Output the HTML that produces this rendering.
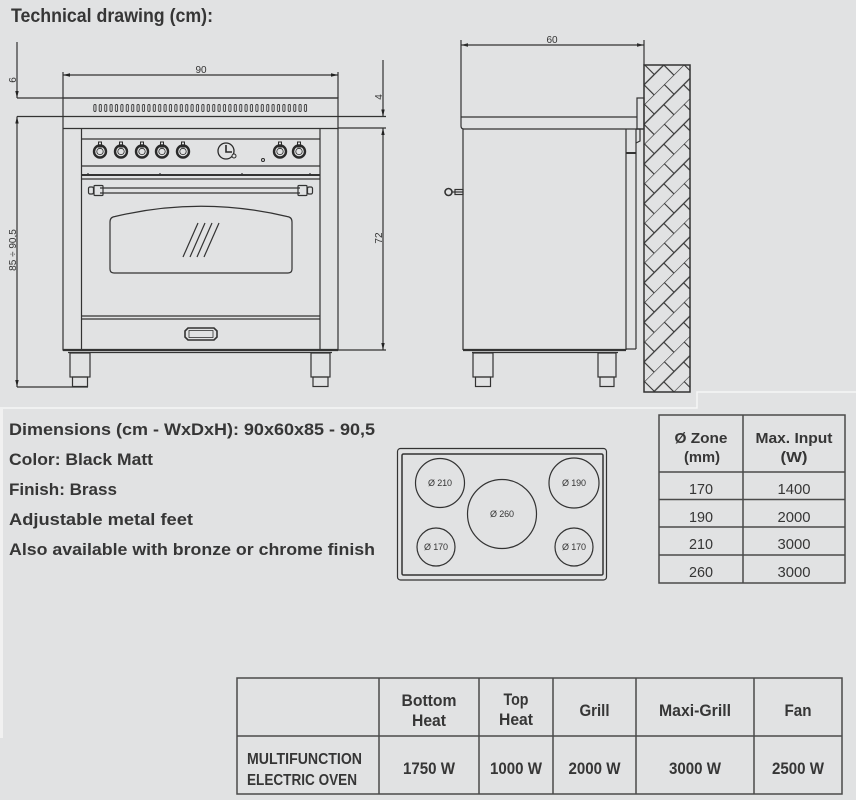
<!DOCTYPE html>
<html><head><meta charset="utf-8"><style>
html,body{margin:0;padding:0;background:#e1e2e3;}
svg{display:block}
text{font-family:"Liberation Sans","DejaVu Sans",sans-serif;fill:#363636}
.b{font-weight:bold}
.d{font-size:10px;fill:#333}
</style></head><body>
<svg width="856" height="800" viewBox="0 0 856 800" xmlns="http://www.w3.org/2000/svg">
<defs>
<pattern id="vent" x="93" y="104" width="5.4" height="9" patternUnits="userSpaceOnUse">
<rect x="0.8" y="0.5" width="2.2" height="7" rx="1.1" fill="none" stroke="#333" stroke-width="0.9"/>
</pattern>
<pattern id="hatch" x="644" y="65" width="28" height="28" patternUnits="userSpaceOnUse" patternTransform="rotate(-45 644 65)">
<path d="M0,0 H28 M0,14 H28 M0.5,0 V14 M14,14 V28" stroke="#333" stroke-width="1.15" fill="none"/>
</pattern>
</defs>
<rect width="856" height="800" fill="#e1e2e3"/>

<!-- Title -->
<text x="11" y="22" class="b" font-size="19" textLength="202" lengthAdjust="spacingAndGlyphs">Technical drawing (cm):</text>

<!-- FRONT VIEW -->
<g stroke="#333" stroke-width="1.2" fill="none">
<line x1="17" y1="42" x2="17" y2="98"/>
<line x1="17" y1="98" x2="338" y2="98"/>
<line x1="17" y1="116.5" x2="386" y2="116.5"/>
<line x1="17" y1="116.5" x2="17" y2="387"/>
<line x1="17" y1="387" x2="88" y2="387"/>
<line x1="63" y1="72" x2="63" y2="98"/>
<line x1="338" y1="72" x2="338" y2="98"/>
<line x1="63" y1="75" x2="338" y2="75"/>
<line x1="383" y1="60" x2="383" y2="116.5"/>
<line x1="338" y1="128" x2="386" y2="128"/>
<line x1="383" y1="128" x2="383" y2="350"/>
<line x1="338" y1="350" x2="386" y2="350"/>
<rect x="63" y="98" width="275" height="252"/>
<line x1="63" y1="128.5" x2="338" y2="128.5"/>
<line x1="81.5" y1="128.5" x2="81.5" y2="350"/>
<line x1="320" y1="128.5" x2="320" y2="350"/>
<line x1="81.5" y1="139" x2="320" y2="139"/>
<line x1="81.5" y1="166" x2="320" y2="166"/>
<line x1="81.5" y1="175" x2="320" y2="175" stroke-width="2"/>
<line x1="81.5" y1="179" x2="320" y2="179"/>
<line x1="81.5" y1="316" x2="320" y2="316"/>
<line x1="81.5" y1="319" x2="320" y2="319"/>
<line x1="63" y1="350" x2="338" y2="350" stroke-width="2.2"/>
<line x1="68" y1="352.5" x2="332" y2="352.5"/>
<!-- feet -->
<rect x="70" y="353" width="20" height="24"/>
<rect x="72.5" y="377" width="15" height="9.5"/>
<rect x="311" y="353" width="19" height="24"/>
<rect x="313" y="377" width="15" height="9.5"/>
<!-- window -->
<path d="M110,222 Q110,217 115,216.5 Q201,196 287,216.5 Q292,217 292,222 L292,269 Q292,273 288,273 L114,273 Q110,273 110,269 Z"/>
<line x1="183" y1="257" x2="198" y2="223"/>
<line x1="190" y1="257" x2="205" y2="223"/>
<line x1="197" y1="257" x2="212" y2="223"/>
<line x1="204" y1="257" x2="219" y2="223"/>
<!-- handle -->
<line x1="100" y1="188" x2="300" y2="188"/>
<line x1="100" y1="193" x2="300" y2="193"/>
<rect x="88.5" y="187" width="5" height="7" rx="1.5"/>
<rect x="94" y="185.5" width="9" height="10" rx="1"/>
<rect x="298" y="185.5" width="9" height="10" rx="1"/>
<rect x="307.5" y="187" width="5" height="7" rx="1.5"/>
<!-- badge -->
<path d="M188,328 L214,328 L217,331 L217,337 L214,340 L188,340 L185,337 L185,331 Z" stroke-width="1.6"/>
<rect x="189" y="330.5" width="24" height="7" stroke-width="0.8"/>
<!-- ticks -->
<line x1="88" y1="173" x2="88" y2="175"/><line x1="160" y1="173" x2="160" y2="175"/><line x1="242" y1="173" x2="242" y2="175"/><line x1="310" y1="173" x2="310" y2="175"/>
</g>
<rect x="93" y="104" width="216" height="8" fill="url(#vent)"/>
<!-- knobs -->
<g stroke="#2a2a2a" fill="none">
<g id="k"><rect x="98.5" y="142" width="3" height="5" stroke-width="1"/><circle cx="100" cy="151.5" r="6" stroke-width="2.4"/><circle cx="100" cy="151.5" r="3.2" stroke-width="0.8"/></g>
<use href="#k" x="21"/><use href="#k" x="42"/><use href="#k" x="62"/><use href="#k" x="83"/><use href="#k" x="180"/><use href="#k" x="199"/>
<circle cx="226" cy="151" r="8" stroke-width="1.3"/>
<path d="M226,145 L226,152 L232,152" stroke-width="1.6"/>
<circle cx="234" cy="156" r="2" fill="#e1e2e3" stroke-width="1"/>
<circle cx="263" cy="160" r="1.5" stroke-width="1"/>
</g>
<!-- arrows -->
<g fill="#222">
<polygon points="17,98 15.3,91 18.7,91"/>
<polygon points="17,116.5 15.3,123.5 18.7,123.5"/>
<polygon points="17,387 15.3,380 18.7,380"/>
<polygon points="63,75 70,73.3 70,76.7"/>
<polygon points="338,75 331,73.3 331,76.7"/>
<polygon points="383,116.5 381.3,109.5 384.7,109.5"/>
<polygon points="383,128 381.3,135 384.7,135"/>
<polygon points="383,350 381.3,343 384.7,343"/>
<polygon points="461,45 468,43.3 468,46.7"/>
<polygon points="644,45 637,43.3 637,46.7"/>
</g>
<text class="d" x="201" y="73" text-anchor="middle">90</text>
<text class="d" transform="translate(16,80) rotate(-90)" text-anchor="middle">6</text>
<text class="d" transform="translate(382,97) rotate(-90)" text-anchor="middle">4</text>
<text class="d" transform="translate(16,250) rotate(-90)" text-anchor="middle">85 ÷ 90,5</text>
<text class="d" transform="translate(382,238) rotate(-90)" text-anchor="middle">72</text>

<!-- SIDE VIEW -->
<g stroke="#333" stroke-width="1.2" fill="none">
<line x1="461" y1="40" x2="461" y2="126"/>
<line x1="644" y1="40" x2="644" y2="65"/>
<line x1="461" y1="45" x2="644" y2="45"/>
<line x1="461" y1="117" x2="637" y2="117"/>
<path d="M461,126 Q461,129 464,129 L644,129"/>
<rect x="637" y="98" width="7" height="31"/>
<line x1="463" y1="129" x2="463" y2="350"/>
<line x1="626" y1="129" x2="626" y2="350"/>
<line x1="636" y1="129" x2="636" y2="349"/>
<line x1="626" y1="349" x2="636" y2="349"/>
<line x1="626" y1="153" x2="636" y2="153" stroke-width="2"/>
<path d="M636,129 L640,129 L640,141 L636,143"/>
<line x1="463" y1="350" x2="626" y2="350" stroke-width="2.2"/>
<line x1="472" y1="352.5" x2="618" y2="352.5"/>
<rect x="473" y="353" width="20" height="24"/>
<rect x="475.5" y="377" width="15" height="9.5"/>
<rect x="598" y="353" width="18" height="24"/>
<rect x="600" y="377" width="14" height="9.5"/>
<circle cx="448.5" cy="192" r="3.5" stroke-width="1.6"/>
<line x1="452" y1="192" x2="463" y2="192"/>
<rect x="455" y="189.5" width="8" height="5"/>
</g>
<rect x="644" y="65" width="46" height="327" fill="url(#hatch)" stroke="#333" stroke-width="1.5"/>
<text class="d" x="552" y="43" text-anchor="middle">60</text>

<!-- separator -->
<polyline points="0,408 697,408 697,392 856,392" fill="none" stroke="#f6f6f6" stroke-width="1.5"/>
<rect x="0" y="409" width="3" height="329" fill="#f1f1f1"/>

<!-- spec text -->
<g class="b" font-size="17">
<text x="9" y="435" class="b" textLength="366" lengthAdjust="spacingAndGlyphs">Dimensions (cm - WxDxH): 90x60x85 - 90,5</text>
<text x="9" y="465" class="b" textLength="144" lengthAdjust="spacingAndGlyphs">Color: Black Matt</text>
<text x="9" y="495" class="b" textLength="108" lengthAdjust="spacingAndGlyphs">Finish: Brass</text>
<text x="9" y="525" class="b" textLength="184" lengthAdjust="spacingAndGlyphs">Adjustable metal feet</text>
<text x="9" y="555" class="b" textLength="366" lengthAdjust="spacingAndGlyphs">Also available with bronze or chrome finish</text>
</g>

<!-- cooktop -->
<g stroke="#333" fill="none">
<rect x="397.5" y="448.5" width="209" height="131.5" rx="3" stroke-width="1.2"/>
<rect x="402" y="454" width="201" height="121" rx="1.5" stroke-width="1.5"/>
<circle cx="440" cy="483" r="24.5" stroke-width="1.2"/>
<circle cx="574" cy="483" r="25" stroke-width="1.2"/>
<circle cx="502" cy="514" r="34.5" stroke-width="1.2"/>
<circle cx="436" cy="547" r="19" stroke-width="1.2"/>
<circle cx="574" cy="547" r="19" stroke-width="1.2"/>
</g>
<g font-size="9" text-anchor="middle">
<text x="440" y="486" textLength="24">Ø 210</text>
<text x="574" y="486" textLength="24">Ø 190</text>
<text x="502" y="517" textLength="24">Ø 260</text>
<text x="436" y="550" textLength="24">Ø 170</text>
<text x="574" y="550" textLength="24">Ø 170</text>
</g>

<!-- right table -->
<g stroke="#4a4a4a" stroke-width="1.5" fill="none">
<rect x="659" y="415" width="186" height="168"/>
<line x1="743" y1="415" x2="743" y2="583"/>
<line x1="659" y1="472" x2="845" y2="472"/>
<line x1="659" y1="499.5" x2="845" y2="499.5"/>
<line x1="659" y1="527" x2="845" y2="527"/>
<line x1="659" y1="555" x2="845" y2="555"/>
</g>
<g text-anchor="middle" font-size="15">
<text x="701" y="443" class="b" textLength="53" lengthAdjust="spacingAndGlyphs">Ø Zone</text>
<text x="702" y="462" class="b" textLength="36" lengthAdjust="spacingAndGlyphs">(mm)</text>
<text x="794" y="443" class="b" textLength="77" lengthAdjust="spacingAndGlyphs">Max. Input</text>
<text x="794" y="462" class="b" textLength="27" lengthAdjust="spacingAndGlyphs">(W)</text>
<text x="701" y="494" textLength="24" lengthAdjust="spacingAndGlyphs">170</text>
<text x="794" y="494" textLength="33" lengthAdjust="spacingAndGlyphs">1400</text>
<text x="701" y="522" textLength="24" lengthAdjust="spacingAndGlyphs">190</text>
<text x="794" y="522" textLength="33" lengthAdjust="spacingAndGlyphs">2000</text>
<text x="701" y="549" textLength="24" lengthAdjust="spacingAndGlyphs">210</text>
<text x="794" y="549" textLength="33" lengthAdjust="spacingAndGlyphs">3000</text>
<text x="701" y="577" textLength="24" lengthAdjust="spacingAndGlyphs">260</text>
<text x="794" y="577" textLength="33" lengthAdjust="spacingAndGlyphs">3000</text>
</g>

<!-- bottom table -->
<g stroke="#4a4a4a" stroke-width="1.5" fill="none">
<rect x="237" y="678" width="605" height="116"/>
<line x1="379" y1="678" x2="379" y2="794"/>
<line x1="479" y1="678" x2="479" y2="794"/>
<line x1="553" y1="678" x2="553" y2="794"/>
<line x1="636" y1="678" x2="636" y2="794"/>
<line x1="754" y1="678" x2="754" y2="794"/>
<line x1="237" y1="736" x2="842" y2="736"/>
</g>
<g class="b" font-size="17" text-anchor="middle">
<text x="429" y="706" class="b" textLength="55" lengthAdjust="spacingAndGlyphs">Bottom</text>
<text x="429" y="726" class="b" textLength="34" lengthAdjust="spacingAndGlyphs">Heat</text>
<text x="516" y="705" class="b" textLength="25" lengthAdjust="spacingAndGlyphs">Top</text>
<text x="516" y="725" class="b" textLength="34" lengthAdjust="spacingAndGlyphs">Heat</text>
<text x="594.5" y="716" class="b" textLength="30" lengthAdjust="spacingAndGlyphs">Grill</text>
<text x="695" y="716" class="b" textLength="72" lengthAdjust="spacingAndGlyphs">Maxi-Grill</text>
<text x="798" y="716" class="b" textLength="27" lengthAdjust="spacingAndGlyphs">Fan</text>
<text x="429" y="774" class="b" textLength="52" lengthAdjust="spacingAndGlyphs">1750 W</text>
<text x="516" y="774" class="b" textLength="52" lengthAdjust="spacingAndGlyphs">1000 W</text>
<text x="594.5" y="774" class="b" textLength="52" lengthAdjust="spacingAndGlyphs">2000 W</text>
<text x="695" y="774" class="b" textLength="52" lengthAdjust="spacingAndGlyphs">3000 W</text>
<text x="798" y="774" class="b" textLength="52" lengthAdjust="spacingAndGlyphs">2500 W</text>
</g>
<g class="b" font-size="15.5">
<text x="247" y="764" class="b" textLength="115" lengthAdjust="spacingAndGlyphs">MULTIFUNCTION</text>
<text x="247" y="785" class="b" textLength="110" lengthAdjust="spacingAndGlyphs">ELECTRIC OVEN</text>
</g>
</svg>
</body></html>
